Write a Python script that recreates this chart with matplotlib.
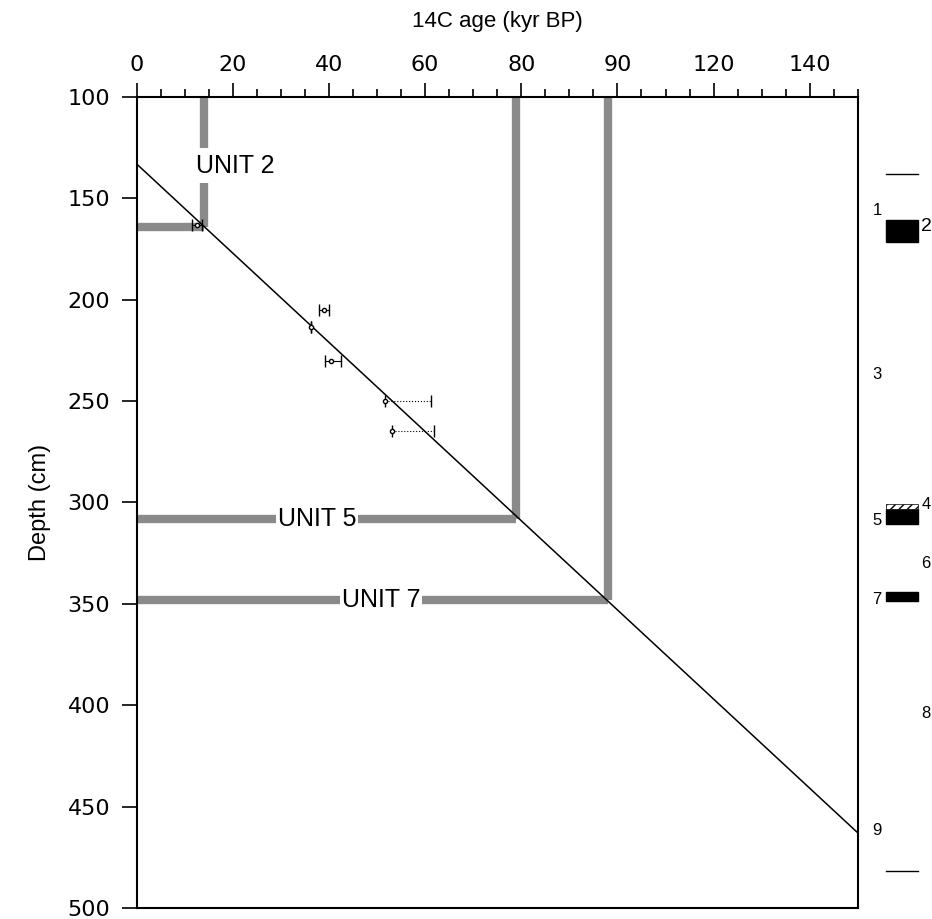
import matplotlib
matplotlib.use("Agg")
import matplotlib.pyplot as plt
from matplotlib.patches import Rectangle
from matplotlib.transforms import blended_transform_factory

plt.rcParams['font.family'] = ['Liberation Sans', 'DejaVu Sans']

# age-depth model line (kyr BP, cm)
model_age = [0, 150]
model_depth = [133, 463]

# unit boundaries: depth of horizontal bar, age of vertical bar
unit_names = ["UNIT 2", "UNIT 5", "UNIT 7"]
unit_depth = [164, 308, 348]
unit_age = [14.0, 79.0, 98.0]

# dated samples with age errors (left, right)
pt_age = [12.6, 38.9, 36.2, 40.5, 51.7, 53.1]
pt_depth = [163, 205, 213.6, 230, 250, 265]
pt_err_lo = [1.0, 1.0, 0.0, 1.4, 0.0, 0.0]
pt_err_hi = [1.0, 1.1, 0.0, 2.0, 9.5, 8.8]
pt_dotted = [False, False, False, False, True, True]

xtick_pos = [0, 20, 40, 60, 80, 100, 120, 140]
xtick_lab = ["0", "20", "40", "60", "80", "90", "120", "140"]
ytick_pos = [100, 150, 200, 250, 300, 350, 400, 450, 500]

# lithology column at the right (depth ranges)
col_blocks = [(160.6, 171.7), (303.0, 310.8), (344.0, 348.5)]
col_hatch = [(301.0, 303.0)]
col_lines = [138, 482]
col_left_labels = [("1", 156), ("3", 237), ("5", 309), ("7", 348), ("9", 462)]
col_right_labels = [("2", 164), ("4", 301), ("6", 330), ("8", 404)]

fig = plt.figure(figsize=(9.32, 9.19), dpi=100)
ax = fig.add_axes([0.1465, 0.012, 0.774, 0.8825])

grey = "#8a8a8a"
bar_lw = 6

# units: horizontal + vertical grey bars, label with white box over the bar
for name, d, a in zip(unit_names, unit_depth, unit_age):
    ax.plot([0, a], [d, d], color=grey, lw=bar_lw, solid_capstyle="butt", zorder=2)
    ax.plot([a, a], [100, d], color=grey, lw=bar_lw, solid_capstyle="butt", zorder=2)

ax.text(unit_age[0] - 1.6, 134, unit_names[0], fontsize=18, ha="left", va="center",
        bbox=dict(facecolor="white", edgecolor="none", pad=4), zorder=3)
ax.text(37.5, unit_depth[1], unit_names[1], fontsize=18, ha="center", va="center",
        bbox=dict(facecolor="white", edgecolor="none", pad=1.5), zorder=3)
ax.text(50.8, unit_depth[2], unit_names[2], fontsize=18, ha="center", va="center",
        bbox=dict(facecolor="white", edgecolor="none", pad=1.5), zorder=3)

ax.plot(model_age, model_depth, color="black", lw=1.1, zorder=4)

for a, d, lo, hi, dot in zip(pt_age, pt_depth, pt_err_lo, pt_err_hi, pt_dotted):
    eb = ax.errorbar(a, d, xerr=[[lo], [hi]], fmt="o", ms=3, mfc="white", mec="black",
                     mew=1, ecolor="black", elinewidth=0.8, capsize=4.5, capthick=1, zorder=5)
    if dot:
        eb[2][0].set_linestyle(":")

ax.set_xlim(0, 150)
ax.set_ylim(500, 100)
ax.xaxis.tick_top()
ax.xaxis.set_label_position("top")
ax.set_xticks(xtick_pos)
ax.set_xticklabels(xtick_lab, family="DejaVu Sans")
ax.set_xticks(range(0, 151, 5), minor=True)
ax.set_yticks(ytick_pos)
ax.set_yticklabels([str(v) for v in ytick_pos], family="DejaVu Sans")
ax.tick_params(axis="x", which="major", length=10, width=1.2, labelsize=16, pad=6, direction="out")
ax.tick_params(axis="x", which="minor", length=6, width=1.2, direction="out")
ax.tick_params(axis="y", which="major", length=11, width=1.2, labelsize=16, pad=8, direction="out")
ax.set_xlabel("14C age (kyr BP)", fontsize=16, labelpad=20)
ax.set_ylabel("Depth (cm)", fontsize=17, labelpad=12)
for sp in ax.spines.values():
    sp.set_linewidth(1.5)

# lithology column outside the axes
tr = blended_transform_factory(fig.transFigure, ax.transData)
x0, x1 = 886 / 932, 918 / 932
for top, bot in col_blocks:
    ax.add_patch(Rectangle((x0, top), x1 - x0, bot - top, transform=tr, facecolor="black",
                           edgecolor="black", clip_on=False))
for top, bot in col_hatch:
    ax.add_patch(Rectangle((x0, top), x1 - x0, bot - top, transform=tr, facecolor="white",
                           edgecolor="black", hatch="////", lw=0.5, clip_on=False))
for d in col_lines:
    ax.plot([x0, x1], [d, d], color="black", lw=1, transform=tr, clip_on=False)
for lab, d in col_left_labels:
    ax.text(877 / 932, d, lab, fontsize=12, ha="center", va="center", transform=tr)
for lab, d in col_right_labels:
    ax.text(926 / 932, d, lab, fontsize=14 if lab == "2" else 12, ha="center", va="center",
            transform=tr)

fig.savefig("out.png", dpi=100)
